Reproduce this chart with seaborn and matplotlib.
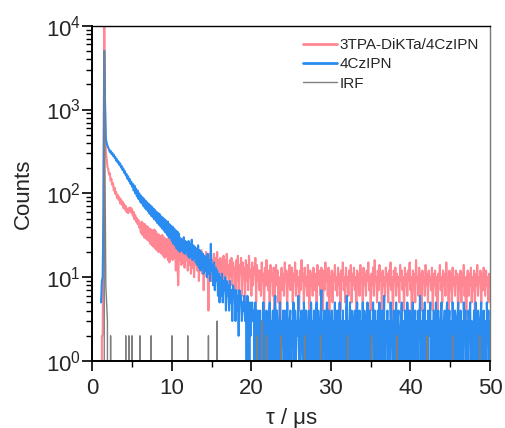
import numpy as np
import pandas as pd
import matplotlib
matplotlib.use("Agg")
import matplotlib.pyplot as plt
from matplotlib.ticker import MultipleLocator, LogLocator
import seaborn as sns

# ---- data ----
t_start = 1.1      # first channel time (us)
t_step = 0.1       # channel width (us)

series_names = ["3TPA-DiKTa/4CzIPN", "4CzIPN", "IRF"]

counts_3tpa = [
    0, 2, 2, 40, 15000, 900, 320, 262, 210, 193,
    168, 175, 142, 150, 126, 133, 108, 117, 98, 104,
    88, 96, 84, 90, 76, 85, 73, 80, 67, 75,
    64, 71, 60, 66, 58, 67, 61, 68, 59, 65,
    54, 60, 49, 55, 46, 51, 43, 48, 39, 44,
    34, 46, 32, 44, 30, 43, 29, 41, 28, 40,
    27, 38, 25, 37, 24, 36, 23, 37, 22, 35,
    21, 33, 20, 32, 20, 31, 19, 32, 18, 30,
    17, 29, 18, 28, 16, 29, 15, 27, 17, 28,
    16, 25, 17, 24, 12, 23, 15, 8, 22, 16,
    23, 14, 22, 15, 24, 13, 21, 16, 23, 12,
    20, 14, 22, 11, 21, 13, 19, 10, 21, 14,
    19, 12, 20, 9, 18, 13, 21, 11, 19, 7,
    18, 12, 20, 10, 17, 4, 19, 11, 18, 9,
    16, 10, 19, 8, 17, 12, 20, 9, 16, 6,
    17, 11, 15, 8, 18, 10, 16, 7, 19, 11,
    14, 6, 16, 10, 17, 8, 15, 11, 13, 5,
    16, 9, 18, 7, 14, 11, 17, 6, 15, 10,
    13, 5, 16, 9, 14, 7, 18, 10, 12, 6,
    15, 8, 13, 11, 17, 5, 14, 9, 12, 7,
    12, 6, 15, 9, 11, 4, 13, 8, 16, 10,
    7, 12, 5, 14, 9, 11, 6, 13, 3, 10,
    14, 8, 12, 5, 10, 1, 9, 13, 7, 11,
    6, 15, 9, 12, 4, 11, 8, 14, 7, 10,
    13, 5, 11, 9, 15, 6, 12, 8, 10, 4,
    12, 7, 16, 9, 11, 5, 13, 8, 10, 6,
    14, 9, 4, 12, 8, 11, 6, 13, 10, 7,
    11, 5, 14, 8, 12, 9, 6, 13, 10, 4,
    12, 7, 15, 9, 11, 6, 13, 2, 10, 8,
    12, 5, 11, 9, 14, 7, 10, 6, 13, 8,
    11, 4, 12, 9, 15, 7, 10, 5, 13, 8,
    10, 6, 12, 9, 14, 5, 11, 8, 13, 7,
    10, 3, 12, 8, 11, 6, 14, 9, 10, 5,
    13, 8, 11, 6, 12, 9, 15, 7, 10, 4,
    11, 8, 13, 6, 16, 9, 10, 5, 12, 7,
    14, 9, 11, 4, 12, 8, 10, 6, 13, 9,
    11, 5, 12, 8, 15, 7, 10, 3, 12, 9,
    13, 6, 11, 8, 10, 5, 14, 9, 12, 7,
    10, 4, 13, 8, 11, 6, 12, 9, 15, 7,
    10, 1, 12, 8, 11, 5, 16, 9, 10, 6,
    13, 7, 11, 4, 12, 9, 10, 6, 14, 8,
    11, 5, 12, 9, 10, 7, 13, 4, 11, 8,
    12, 6, 10, 2, 11, 9, 14, 7, 10, 5,
    12, 8, 11, 6, 15, 9, 10, 4, 12, 7,
    11, 5, 13, 8, 10, 6, 12, 9, 11, 3,
    10, 7, 12, 5, 11, 8, 14, 6, 10, 1,
    9, 12, 6, 11, 8, 13, 5, 10, 7, 12,
    4, 11, 8, 14, 6, 10, 9, 12, 5, 11,
    7, 13, 9, 6, 12, 8, 10, 5, 11, 9,
    8,
]

counts_4czipn = [
    5, 9, 10, 60, 5000, 1200, 450, 400, 370, 350,
    335, 312, 322, 296, 305, 280, 290, 265, 272, 245,
    255, 232, 240, 218, 228, 204, 212, 190, 198, 176,
    184, 164, 170, 150, 160, 140, 148, 130, 138, 120,
    130, 108, 124, 100, 114, 92, 108, 86, 100, 80,
    94, 76, 90, 71, 86, 67, 82, 64, 78, 61,
    75, 57, 72, 54, 69, 52, 66, 49, 63, 47,
    60, 44, 58, 42, 56, 40, 53, 38, 51, 36,
    49, 34, 47, 32, 46, 30, 43, 29, 41, 27,
    40, 25, 38, 24, 36, 22, 35, 21, 33, 20,
    29, 21, 28, 20, 30, 19, 27, 20, 26, 18,
    27, 17, 25, 18, 28, 16, 24, 17, 23, 15,
    22, 14, 24, 13, 21, 12, 20, 13, 19, 11,
    18, 12, 17, 10, 19, 11, 16, 9, 25, 12,
    14, 8, 15, 7, 13, 9, 12, 6, 11, 5,
    10, 6, 11, 5, 9, 7, 10, 4, 9, 6,
    8, 4, 9, 5, 7, 3, 8, 6, 7, 3,
    7, 4, 6, 2, 7, 5, 6, 3, 5, 4,
    6, 3, 5, 1, 6, 4, 0, 5, 2, 4,
    5, 3, 4, 1, 5, 2, 0, 4, 3, 1,
    4, 1, 3, 0, 5, 2, 3, 1, 4, 2,
    0, 3, 5, 1, 3, 2, 4, 0, 3, 6,
    1, 4, 2, 0, 3, 5, 1, 3, 2, 4,
    0, 4, 3, 1, 5, 2, 0, 3, 4, 1,
    3, 2, 5, 0, 4, 1, 3, 2, 6, 1,
    0, 3, 4, 2, 1, 5, 3, 0, 4, 2,
    3, 1, 4, 0, 5, 2, 3, 1, 4, 0,
    3, 5, 1, 4, 2, 0, 3, 7, 1, 3,
    2, 4, 0, 3, 5, 1, 4, 2, 0, 3,
    4, 1, 3, 2, 5, 0, 3, 4, 1, 2,
    5, 0, 3, 2, 4, 1, 3, 0, 4, 6,
    1, 3, 2, 5, 0, 4, 2, 1, 3, 4,
    0, 3, 5, 1, 2, 4, 0, 3, 2, 5,
    1, 4, 3, 0, 2, 5, 1, 3, 4, 0,
    3, 2, 5, 1, 4, 0, 3, 2, 4, 1,
    5, 0, 3, 4, 1, 2, 6, 0, 3, 2,
    4, 1, 3, 0, 5, 2, 3, 1, 4, 0,
    2, 5, 1, 3, 4, 0, 2, 3, 5, 1,
    3, 0, 4, 2, 1, 5, 3, 0, 4, 2,
    1, 3, 5, 0, 2, 4, 1, 3, 0, 4,
    2, 6, 1, 3, 0, 4, 2, 5, 1, 3,
    0, 4, 2, 3, 5, 0, 3, 1, 4, 2,
    1, 5, 0, 3, 4, 2, 0, 3, 5, 1,
    3, 2, 4, 0, 3, 5, 1, 2, 4, 0,
    3, 1, 5, 2, 0, 4, 3, 1, 3, 5,
    0, 2, 4, 1, 3, 0, 5, 2, 4, 1,
    3, 0, 4, 2, 5, 1, 3, 0, 2, 4,
    1, 5, 3, 0, 4, 2, 1, 3, 5, 0,
    2, 4, 1, 3, 0, 5, 2, 4, 1, 3,
    2,
]

# IRF: non-zero channels only (all other channels are 0 counts)
irf_times = [1.5, 1.6, 1.7, 1.8, 1.9, 2.1, 2.3, 4.2, 4.6, 5.0, 6.0, 7.4,
             10.0, 12.0, 14.6, 15.7, 20.7, 21.3, 21.9, 22.7, 23.7, 25.1,
             26.7, 27.3, 28.7, 30.5, 32.1, 33.5, 35.1, 36.7, 38.3, 39.7,
             42.1, 43.5, 45.3, 47.1, 48.7]
irf_counts = [5000, 150, 8, 5, 3, 1, 2, 2, 2, 2, 2, 2,
              2, 2, 2, 3, 2, 3, 2, 1, 2, 1,
              2, 1, 2, 1, 2, 1, 2, 1, 2, 1,
              2, 1, 2, 1, 2]

x_ticks = [0, 10, 20, 30, 40, 50]

colors = {"3TPA-DiKTa/4CzIPN": "#FF8693",
          "4CzIPN": "#2A8CF0",
          "IRF": "#7F7F7F"}
widths = {"3TPA-DiKTa/4CzIPN": 1.5, "4CzIPN": 1.5, "IRF": 1.0}

# ---- build table ----
n = len(counts_3tpa)
time = t_start + t_step * np.arange(n)
irf = np.zeros(n)
for tt, c in zip(irf_times, irf_counts):
    irf[int(round((tt - t_start) / t_step))] = c

df = pd.DataFrame({
    "time": np.concatenate([time, time, time]),
    "counts": np.concatenate([np.array(counts_3tpa, float),
                              np.array(counts_4czipn, float), irf]),
    "series": np.repeat(series_names, n),
})

# ---- style ----
sns.set_style("ticks")
plt.rcParams["font.family"] = ["Liberation Sans", "DejaVu Sans"]
plt.rcParams["mathtext.fontset"] = "custom"
plt.rcParams["mathtext.rm"] = "Liberation Sans"
plt.rcParams["mathtext.it"] = "Liberation Sans:italic"
plt.rcParams["mathtext.default"] = "regular"

fig = plt.figure(figsize=(5.05, 4.28), dpi=100)
ax = fig.add_axes([0.1828, 0.1565, 0.7875, 0.7834])

for name in series_names:
    sub = df[df["series"] == name]
    sns.lineplot(data=sub, x="time", y="counts", ax=ax, color=colors[name],
                 linewidth=widths[name], label=name, estimator=None,
                 sort=False, errorbar=None)

ax.set_yscale("log")
ax.set_xlim(0, 50)
ax.set_ylim(1, 10000)
ax.set_xticks(x_ticks)
ax.xaxis.set_minor_locator(MultipleLocator(5))
ax.yaxis.set_major_locator(LogLocator(base=10))
ax.yaxis.set_minor_locator(LogLocator(base=10, subs=np.arange(2, 10)))

ax.set_xlabel("τ / μs", fontsize=16, labelpad=7)
ax.set_ylabel("Counts", fontsize=16, labelpad=9)

ax.tick_params(axis="both", which="major", direction="out", length=7,
               width=1.2, labelsize=16, color="black")
ax.tick_params(axis="both", which="minor", direction="out", length=4.5,
               width=1.0, color="black")
ax.tick_params(axis="y", which="major", pad=1)
ax.tick_params(axis="x", which="major", pad=5)

for side in ["left", "bottom"]:
    ax.spines[side].set_linewidth(1.4)
    ax.spines[side].set_color("black")
ax.spines["top"].set_linewidth(1.0)
ax.spines["top"].set_color("black")
ax.spines["right"].set_linewidth(1.0)
ax.spines["right"].set_color("#777777")

leg = ax.legend(loc="upper right", bbox_to_anchor=(1.0, 0.995), frameon=False,
                fontsize=11, handlelength=2.2, handletextpad=0.2,
                labelspacing=0.35, borderaxespad=0.3)
for line, name in zip(leg.get_lines(), series_names):
    line.set_linewidth(2.0 if name != "IRF" else 1.0)

fig.savefig("out.png", dpi=100)
